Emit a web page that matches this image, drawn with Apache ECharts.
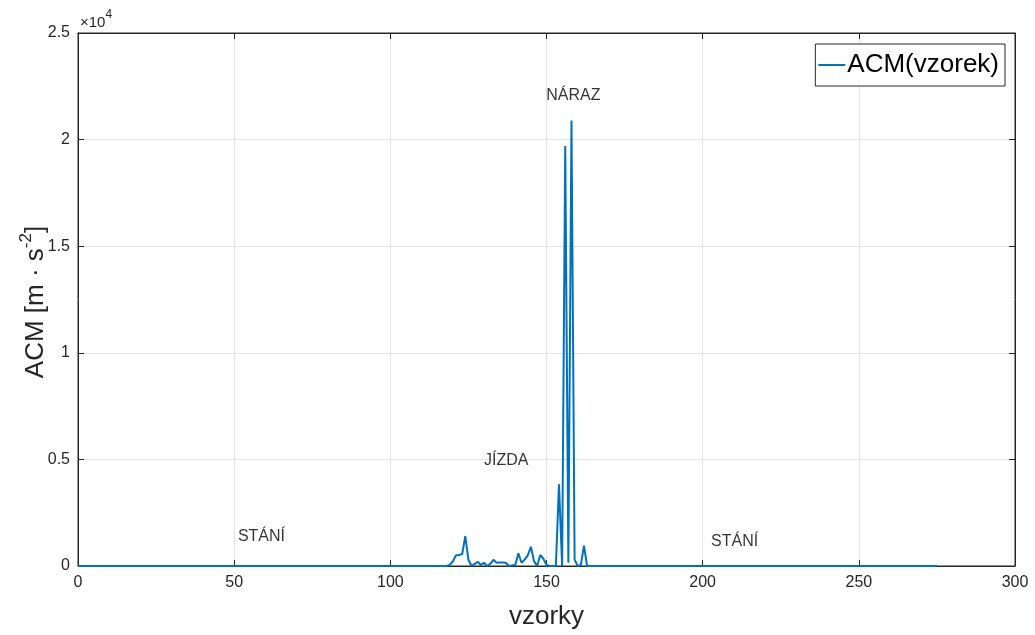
<!DOCTYPE html>
<html>
<head>
<meta charset="utf-8">
<script src="https://cdn.jsdelivr.net/npm/echarts@6/dist/echarts.min.js"></script>
<style>
html,body{margin:0;padding:0;background:#fff;}
#c{width:1035px;height:635px;}
</style>
</head>
<body>
<div id="c"></div>
<script>
// Data
const samples = [0,117,118,119,120,121,122,123,124,125,126,127,128,129,130,131,132,133,134,135,136,137,138,139,140,141,142,143,144,145,146,147,148,149,150,151,152,153,154,155,156,157,158,159,160,161,162,163,275];
const acm     = [0,0,0,50,210,500,520,560,1400,290,0,100,200,50,150,0,100,290,150,170,160,150,0,30,50,600,150,300,500,900,230,0,520,340,50,0,0,0,3830,0,19700,150,20900,300,0,50,950,0,0];
const annX    = [51.2, 130.0, 149.9, 202.7];
const annY    = [1400, 4950, 22070, 1160];
const annText = ['STÁNÍ', 'JÍZDA', 'NÁRAZ', 'STÁNÍ'];
const xTicks  = [0, 50, 100, 150, 200, 250, 300];
const yTickLabels = ['0', '0.5', '1', '1.5', '2', '2.5'];
const seriesName = 'ACM(vzorek)';

const FONT = 'Liberation Sans, Arial, Helvetica, sans-serif';
const AX = '#262626';
const GRID = '#e3e3e3';

const chart = echarts.init(document.getElementById('c'), null, {renderer: 'canvas'});
const lineData = samples.map((s, i) => [s, acm[i]]);
const annData = annX.map((x, i) => ({value: [x, annY[i]], label: {formatter: annText[i]}}));

chart.setOption({
  animation: false,
  backgroundColor: '#fff',
  textStyle: {fontFamily: FONT},
  grid: {left: 78, right: 20, top: 33, bottom: 65, show: true, borderColor: AX, borderWidth: 1, backgroundColor: '#fff'},
  graphic: [{
    type: 'text', left: 80, top: 9,
    style: {
      text: '{a|×10}{s|4}',
      rich: {
        a: {fontSize: 15, fontFamily: FONT, fill: AX, verticalAlign: 'bottom', lineHeight: 21},
        s: {fontSize: 12, fontFamily: FONT, fill: AX, verticalAlign: 'top', padding: [0, 0, 8, 0]}
      }
    }
  }, {
    type: 'text', x: 33, y: 302, rotation: Math.PI / 2,
    style: {
      text: '{a|ACM [m · s}{s|-2}{a|]}',
      align: 'center', verticalAlign: 'middle',
      rich: {
        a: {fontSize: 26, fontFamily: FONT, fill: AX, verticalAlign: 'bottom', lineHeight: 30},
        s: {fontSize: 17, fontFamily: FONT, fill: AX, verticalAlign: 'top', padding: [0, 0, 14, 0]}
      }
    }
  }],
  legend: {
    data: [seriesName], right: 30, top: 44,
    icon: 'rect', itemHeight: 2, itemWidth: 27, itemGap: 0,
    backgroundColor: '#fff', borderColor: AX, borderWidth: 1, borderRadius: 0,
    padding: [7, 6, 7, 3],
    textStyle: {fontSize: 26, color: '#000', fontFamily: FONT, padding: [0, 0, 0, -3], lineHeight: 28}
  },
  xAxis: [{
    type: 'value', min: 0, max: 300, interval: 50,
    name: 'vzorky', nameLocation: 'middle', nameGap: 38,
    nameTextStyle: {fontSize: 26, color: AX, fontFamily: FONT},
    axisLine: {show: true, onZero: false, lineStyle: {color: AX, width: 1}},
    axisTick: {show: true, inside: true, length: 6, lineStyle: {color: AX}},
    axisLabel: {fontSize: 16, color: AX, margin: 9, fontFamily: FONT,
      formatter: v => (xTicks.indexOf(v) >= 0 ? String(v) : '')},
    splitLine: {show: true, lineStyle: {color: GRID, width: 1}}
  }, {
    type: 'value', min: 0, max: 300, interval: 50, position: 'top',
    axisLine: {show: true, onZero: false, lineStyle: {color: AX}},
    axisTick: {show: true, inside: true, length: 6, lineStyle: {color: AX}},
    axisLabel: {show: false}, splitLine: {show: false}
  }],
  yAxis: [{
    type: 'value', min: 0, max: 25000, interval: 5000,
    axisLine: {show: true, onZero: false, lineStyle: {color: AX, width: 1}},
    axisTick: {show: true, inside: true, length: 6, lineStyle: {color: AX}},
    axisLabel: {fontSize: 16, color: AX, margin: 8, fontFamily: FONT,
      formatter: (v) => { const i = Math.round(v / 5000); return yTickLabels[i] !== undefined ? yTickLabels[i] : ''; }},
    splitLine: {show: true, lineStyle: {color: GRID, width: 1}}
  }, {
    type: 'value', min: 0, max: 25000, interval: 5000, position: 'right',
    axisLine: {show: true, onZero: false, lineStyle: {color: AX}},
    axisTick: {show: true, inside: true, length: 6, lineStyle: {color: AX}},
    axisLabel: {show: false}, splitLine: {show: false}
  }],
  series: [{
    name: seriesName, type: 'line', data: lineData,
    symbol: 'none', lineStyle: {color: '#0072BD', width: 2}, itemStyle: {color: '#0072BD'},
    z: 3
  }, {
    name: 'annotations', type: 'scatter', data: annData, symbolSize: 0,
    itemStyle: {color: 'transparent'}, silent: true,
    label: {show: true, position: 'right', distance: 0, fontSize: 16, color: '#000', fontFamily: FONT},
    z: 4
  }]
});
</script>
</body>
</html>
